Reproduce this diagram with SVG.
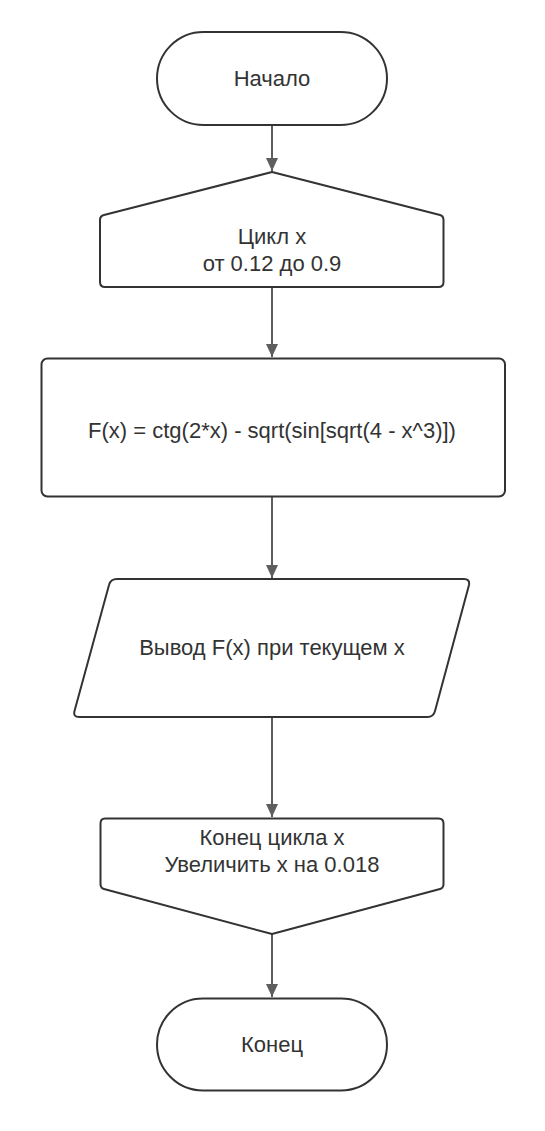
<svg xmlns="http://www.w3.org/2000/svg" width="545" height="1131" viewBox="0 0 545 1131">
<style>
.shape{fill:#ffffff;stroke:#333333;stroke-width:2;stroke-linejoin:round}
.conn{fill:none;stroke:#5e5e5e;stroke-width:2}
text{font-family:"Liberation Sans",Arial,sans-serif;font-size:22px;fill:#333333;text-anchor:middle}
</style>
<defs>
<marker id="arr" markerUnits="userSpaceOnUse" markerWidth="14" markerHeight="14" refX="13" refY="7" orient="auto">
<path d="M0,1 L13,7 L0,13 Z" fill="#5e5e5e"/>
</marker>
</defs>
<rect width="545" height="1131" fill="#ffffff"/>
<g id="connectors">
<line class="conn" x1="272" y1="125" x2="272" y2="171" marker-end="url(#arr)"/>
<line class="conn" x1="272" y1="287" x2="272" y2="357" marker-end="url(#arr)"/>
<line class="conn" x1="272" y1="497" x2="272" y2="578" marker-end="url(#arr)"/>
<line class="conn" x1="272" y1="717" x2="272" y2="817" marker-end="url(#arr)"/>
<line class="conn" x1="272" y1="934" x2="272" y2="997" marker-end="url(#arr)"/>
</g>
<g id="start">
<rect class="shape" x="157" y="32" width="230" height="93" rx="46.5"/>
<text x="272" y="86">Начало</text>
</g>
<g id="loop-start">
<path class="shape" d="M272,172 L440,215 Q443.5,216 443.5,220 L443.5,282 Q443.5,287 438.5,287 L105,287 Q100,287 100,282 L100,220 Q100,216 104,215 Z"/>
<text x="272" y="244">Цикл x</text>
<text x="272" y="271">от 0.12 до 0.9</text>
</g>
<g id="process">
<rect class="shape" x="41.5" y="358.5" width="463.5" height="138" rx="6"/>
<text x="272" y="438">F(x) = ctg(2*x) - sqrt(sin[sqrt(4 - x^3)])</text>
</g>
<g id="output">
<path class="shape" d="M117,579 L464,579 Q470,579 469,585 L435,711 Q433.5,717 427.5,717 L79,717 Q73,717 74.5,711 L109,585 Q110.5,579 117,579 Z"/>
<text x="272" y="655">Вывод F(x) при текущем x</text>
</g>
<g id="loop-end">
<path class="shape" d="M105,818.5 L438.5,818.5 Q443.5,818.5 443.5,823.5 L443.5,884 Q443.5,888 440,889 L272,934 L104,889 Q100.5,888 100.5,884 L100.5,823.5 Q100.5,818.5 105,818.5 Z"/>
<text x="272" y="845">Конец цикла x</text>
<text x="272" y="872">Увеличить x на 0.018</text>
</g>
<g id="end">
<rect class="shape" x="157" y="998.5" width="230" height="92" rx="46"/>
<text x="272" y="1052">Конец</text>
</g>
</svg>
